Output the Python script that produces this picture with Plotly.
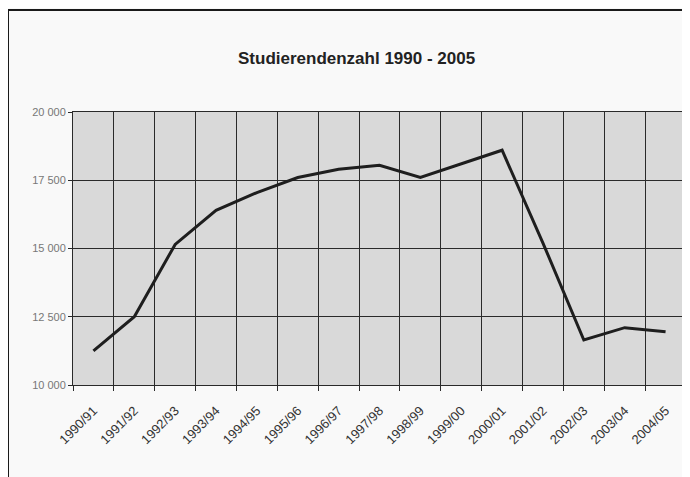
import plotly.graph_objects as go

semesters = ["1990/91", "1991/92", "1992/93", "1993/94", "1994/95", "1995/96",
             "1996/97", "1997/98", "1998/99", "1999/00", "2000/01", "2001/02",
             "2002/03", "2003/04", "2004/05"]
studierende = [11250, 12500, 15150, 16400, 17050, 17600, 17900, 18050,
               17600, 18100, 18600, 15200, 11650, 12100, 11950]
y_ticks = [10000, 12500, 15000, 17500, 20000]
y_labels = ["10 000", "12 500", "15 000", "17 500", "20 000"]
title = "Studierendenzahl 1990 - 2005"

fig = go.Figure()
fig.add_trace(go.Scatter(x=semesters, y=studierende, mode="lines",
                         line=dict(color="#1e1e1e", width=3)))

# page has an 8px body margin, so screen coords = figure coords + 8
OFF = 8
W, H = 690, 477
L, T = 73 - OFF, 112 - OFF
R = W - (686 - OFF)
B = H - (385 - OFF)
pw, ph = W - L - R, H - T - B


def px_x(sx):
    return (sx - OFF - L) / pw


def px_y(sy):
    return (H - B - (sy - OFF)) / ph


fig.update_layout(
    width=W, height=H,
    margin=dict(l=L, r=R, t=T, b=B),
    paper_bgcolor="#f9f9f9",
    plot_bgcolor="#d9d9d9",
    showlegend=False,
    font=dict(family="Liberation Sans, Arial, sans-serif", color="#555"),
    xaxis=dict(type="category", tickson="boundaries", showgrid=True,
               gridcolor="#2a2a2a", gridwidth=1, tickangle=-45,
               ticks="outside", ticklen=5, tickcolor="#2a2a2a",
               ticklabelstandoff=12,
               showline=True, linecolor="#2a2a2a", mirror=True,
               tickfont=dict(size=13, color="#333"), range=[-0.5, 14.5]),
    yaxis=dict(range=[10000, 20000], tickvals=y_ticks, ticktext=y_labels,
               showgrid=True, gridcolor="#2a2a2a", gridwidth=1,
               ticks="outside", ticklen=4, tickcolor="#2a2a2a",
               showline=True, linecolor="#2a2a2a", mirror=True,
               tickfont=dict(size=11, color="#777"), zeroline=False),
    annotations=[dict(text="<b>" + title + "</b>", xref="paper", yref="paper",
                      x=px_x(356), y=px_y(58),
                      showarrow=False, xanchor="center", yanchor="middle",
                      font=dict(size=17, color="#222",
                                family="Liberation Sans Narrow, Arial Narrow, Liberation Sans, Arial"))],
    shapes=[dict(type="rect", xref="paper", yref="paper",
                 x0=px_x(8), x1=1.2, y0=-0.6, y1=px_y(10),
                 line=dict(color="#1a1a1a", width=2), layer="below")],
)

fig.write_html("out.html")
